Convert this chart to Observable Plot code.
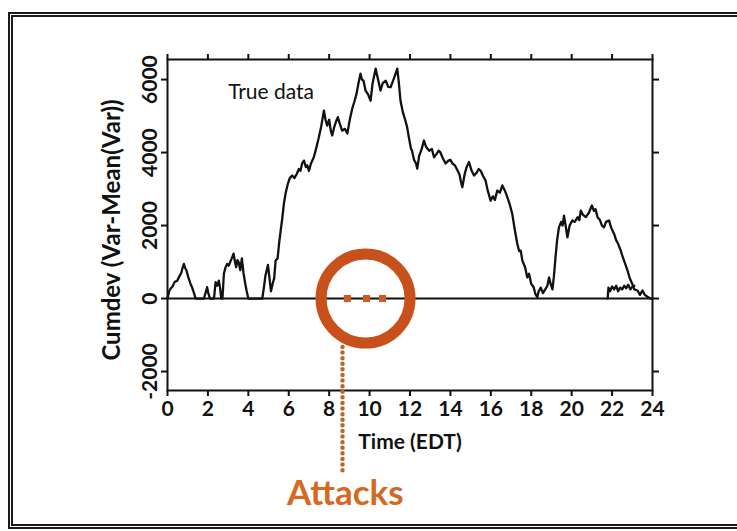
<!DOCTYPE html>
<html>
<head>
<meta charset="utf-8">
<script src="https://cdn.jsdelivr.net/npm/d3@7"></script>
<script src="https://cdn.jsdelivr.net/npm/@observablehq/plot@0.6"></script>
<style>
  html, body { margin: 0; padding: 0; background: #fff; overflow: hidden; }
  #wrap { position: relative; width: 737px; height: 531px; }
  #border { position: absolute; left: 8px; top: 12px; width: 800px; height: 517px; box-sizing: border-box; border: 5px double #1a1a1a; pointer-events: none; }
</style>
</head>
<body>
<div id="wrap"><div id="chart"></div><div id="border"></div></div>
<script>
// Main cumulative deviation series (hours EDT, Cumdev)
const hours = [0.00,0.08,0.15,0.25,0.35,0.48,0.58,0.68,0.75,0.81,0.88,0.94,1.02,1.14,1.22,1.30,1.39,
  1.80,1.88,1.96,2.02,2.10,2.30,2.38,2.46,2.54,2.60,2.66,2.72,2.79,2.87,2.95,3.03,3.10,3.18,3.27,3.34,
  3.40,3.46,3.52,3.60,3.68,3.76,3.85,3.92,4.00,4.69,4.77,4.85,4.97,5.06,5.12,5.20,5.28,5.35,5.45,5.52,
  5.60,5.68,5.76,5.85,5.96,6.05,6.17,6.28,6.40,6.50,6.58,6.66,6.75,6.85,6.92,7.00,7.10,7.24,7.35,7.49,
  7.60,7.74,7.82,7.90,8.00,8.08,8.15,8.25,8.34,8.43,8.52,8.64,8.78,8.90,9.02,9.14,9.25,9.35,9.45,9.55,
  9.62,9.70,9.80,9.92,10.05,10.15,10.30,10.40,10.54,10.65,10.80,10.92,11.04,11.15,11.25,11.37,11.45,
  11.53,11.65,11.76,11.86,11.95,12.05,12.10,12.20,12.30,12.36,12.45,12.58,12.69,12.80,12.95,13.08,
  13.19,13.30,13.42,13.50,13.62,13.76,13.90,14.00,14.10,14.22,14.34,14.45,14.52,14.59,14.70,14.80,
  14.92,15.05,15.17,15.30,15.40,15.50,15.62,15.74,15.85,15.99,16.10,16.20,16.32,16.45,16.57,16.70,
  16.82,16.95,17.06,17.18,17.31,17.40,17.48,17.56,17.70,17.80,17.89,18.00,18.12,18.20,18.30,18.37,
  18.47,18.58,18.70,18.80,18.88,18.96,19.05,19.12,19.20,19.28,19.37,19.48,19.55,19.62,19.70,19.79,
  19.90,20.03,20.15,20.30,20.38,20.45,20.55,20.70,20.85,21.00,21.10,21.18,21.28,21.40,21.50,21.60,
  21.70,21.85,21.95,22.10,22.20,22.30,22.43,22.55,22.65,22.76,22.88,23.00,23.10,23.26,23.38,23.50,
  23.62,23.75,23.90,24.00];
const cumdev = [0,200,270,330,450,490,600,700,850,950,830,770,600,400,300,170,0,
  0,150,310,150,0,0,450,350,490,300,0,0,680,850,950,900,1000,1100,1230,1000,
  860,1050,1000,780,1100,700,400,200,0,0,300,640,920,500,200,400,560,1040,1100,1500,
  1860,2200,2600,2900,3150,3300,3370,3300,3420,3550,3500,3700,3780,3600,3650,3500,3700,3870,4100,4420,
  4700,5150,4900,4740,4900,4600,4470,4700,4850,4970,4800,4600,4650,4520,4900,5200,5400,5600,5900,6160,
  6000,5970,5700,5600,5420,5900,6300,6050,5700,5900,5970,5800,5790,5950,6100,6300,5900,
  5420,5100,4900,4690,4400,4100,4050,3800,3700,3560,3900,4100,4330,4150,4050,4100,
  3870,3950,4050,4010,3850,3700,3780,3800,3700,3650,3520,3400,3200,3050,3400,3600,
  3740,3500,3370,3450,3550,3500,3350,3230,2950,2680,2800,2700,2960,2900,3100,2950,
  2770,2550,2320,1900,1500,1300,1310,1040,850,580,680,400,310,130,40,200,
  300,150,260,350,580,400,250,600,1130,1600,1950,2100,2000,2270,2000,1680,
  2000,2140,2100,2230,2150,2410,2300,2230,2350,2550,2400,2450,2230,2150,2000,1950,
  2100,2140,1950,1770,1600,1500,1310,1100,950,770,550,400,250,220,100,220,
  100,50,0,0];
// Secondary low trace near the end of the day
const lowHours = [21.78,21.82,21.90,22.00,22.10,22.20,22.30,22.40,22.50,22.60,22.70,22.80,22.90,23.00,23.10];
const lowCumdev = [0,300,200,330,250,350,200,300,250,350,280,380,250,320,350];
// Axes ticks
const xTicks = [0,2,4,6,8,10,12,14,16,18,20,22,24];
const yTicks = [-2000,0,2000,4000,6000];
// Annotations
const attackHours = [8.9, 9.85, 10.64];
const attackCircle = [{h: 9.8, v: 0}];
const attackLink = [{h: 8.66, y1: -1340, y2: -4780}];
const attackLabel = [{h: 8.8, v: -5350, text: "Attacks"}];
const seriesLabel = [{h: 3.0, v: 5650, text: "True data"}];

const main = hours.map((h, i) => ({h, v: cumdev[i]}));
const low = lowHours.map((h, i) => ({h, v: lowCumdev[i]}));

const chart = Plot.plot({
  width: 737,
  height: 531,
  marginLeft: 167,
  marginRight: 85,
  marginTop: 59,
  marginBottom: 141,
  x: {domain: [0, 24]},
  y: {domain: [-2520, 6550]},
  style: {fontFamily: "Lato", background: "transparent", color: "#111"},
  marks: [
    Plot.ruleY([0], {stroke: "#111", strokeWidth: 2}),
    Plot.line(main, {x: "h", y: "v", stroke: "#111", strokeWidth: 2.3}),
    Plot.line(low, {x: "h", y: "v", stroke: "#111", strokeWidth: 2.3}),
    Plot.frame({stroke: "#111", strokeWidth: 2}),
    Plot.axisX(xTicks, {anchor: "bottom", tickSize: 6, tickPadding: 5, fontSize: 21, fontWeight: "bold", strokeWidth: 2, label: null}),
    Plot.axisX(xTicks, {anchor: "top", tickSize: 6, tickFormat: () => "", strokeWidth: 2, label: null}),
    Plot.axisY(yTicks, {anchor: "left", tickSize: 6, tickFormat: () => "", strokeWidth: 2, label: null}),
    Plot.axisY(yTicks, {anchor: "right", tickSize: 6, tickFormat: () => "", strokeWidth: 2, label: null}),
    Plot.text(yTicks, {y: d => d, text: d => String(d), frameAnchor: "left", textAnchor: "middle", lineAnchor: "middle", dx: -17, rotate: -90, fontSize: 21, fontWeight: "bold", fill: "#111"}),
    Plot.text(["Cumdev (Var-Mean(Var))"], {frameAnchor: "left", textAnchor: "middle", lineAnchor: "middle", dx: -55, dy: 5, rotate: -90, fontSize: 24, fontWeight: "bold", fill: "#111"}),
    Plot.text(["Time (EDT)"], {frameAnchor: "bottom", dy: 58, fontSize: 21, fontWeight: "bold", fill: "#111"}),
    Plot.text(seriesLabel, {x: "h", y: "v", text: "text", textAnchor: "start", fontSize: 21, fill: "#111"}),
    Plot.dot(attackCircle, {x: "h", y: "v", r: 44.5, stroke: "#c94f1b", strokeWidth: 11, fill: "none"}),
    Plot.dot(attackHours, {x: d => d, y: () => 0, symbol: "square", r: 4, fill: "#d05a24"}),
    Plot.ruleX(attackLink, {x: "h", y1: "y1", y2: "y2", stroke: "#b8682e", strokeWidth: 4.5, strokeDasharray: "0 5.6", strokeLinecap: "round"}),
    Plot.text(attackLabel, {x: "h", y: "v", text: "text", fontSize: 35, fontWeight: "bold", fill: "#d4691f"})
  ]
});
document.getElementById("chart").appendChild(chart);
</script>
</body>
</html>
